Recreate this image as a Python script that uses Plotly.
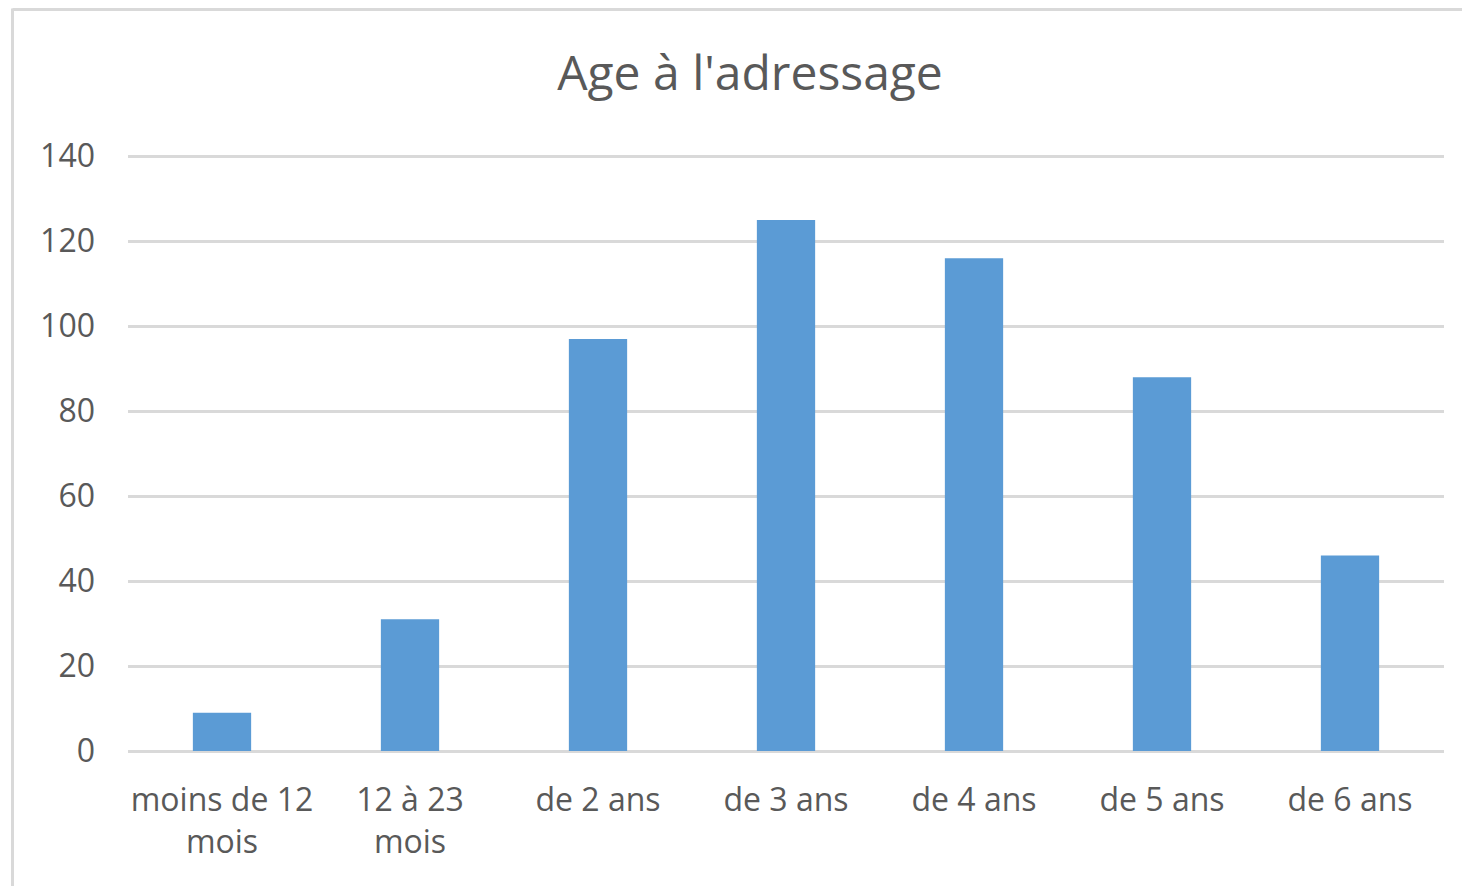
import plotly.graph_objects as go

categories = ["moins de 12<br>mois", "12 à 23<br>mois", "de 2 ans", "de 3 ans", "de 4 ans", "de 5 ans", "de 6 ans"]
values = [9, 31, 97, 125, 116, 88, 46]
y_ticks = [0, 20, 40, 60, 80, 100, 120, 140]

FONT = "Open Sans"
TXT = "#595959"
GRID = "#d9d9d9"

W, H = 1462, 878
L, R, T, B = 120, 26, 147, 135
PW = W - L - R
PH = H - T - B

fig = go.Figure(go.Bar(x=categories, y=values, marker=dict(color="#5b9bd5", line=dict(width=0)), showlegend=False))

fig.update_layout(
    width=W, height=H,
    margin=dict(l=L, r=R, t=T, b=B),
    paper_bgcolor="white", plot_bgcolor="white",
    bargap=0.69,
    title=dict(text="Age à l'adressage", x=742 / W, xanchor="center", y=1 - 65 / H, yanchor="middle",
               font=dict(family=FONT, size=48, color=TXT)),
    font=dict(family=FONT, color=TXT),
    xaxis=dict(showgrid=False, showline=False, zeroline=False, ticks="",
               tickfont=dict(family=FONT, size=32, color=TXT), ticklabelstandoff=27),
    yaxis=dict(range=[0, 140.3], tickvals=y_ticks, showgrid=True, gridcolor=GRID, gridwidth=3,
               zeroline=True, zerolinecolor=GRID, zerolinewidth=3, showline=False, ticks="",
               tickfont=dict(family=FONT, size=32, color=TXT), ticklabelstandoff=32),
    shapes=[
        dict(type="line", xref="paper", yref="paper", x0=(4.5 - L) / PW, x1=1.1, y0=1 + (T - 1.5) / PH, y1=1 + (T - 1.5) / PH,
             line=dict(color=GRID, width=3)),
        dict(type="line", xref="paper", yref="paper", x0=(4.5 - L) / PW, x1=(4.5 - L) / PW, y0=1 + (T - 0.5) / PH, y1=-0.3,
             line=dict(color=GRID, width=3)),
    ],
)

fig.write_html("out.html")
